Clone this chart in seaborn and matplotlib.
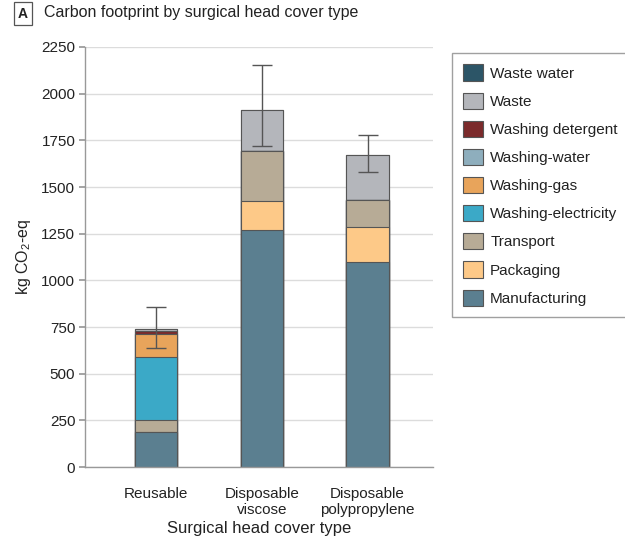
import pandas as pd
import matplotlib
matplotlib.use('Agg')
import matplotlib.pyplot as plt
import matplotlib.patches as mpatches
import seaborn as sns

# Data (kg CO2-eq)
categories = ['Reusable', 'Disposable\nviscose', 'Disposable\npolypropylene']
components = ['Manufacturing', 'Packaging', 'Transport', 'Washing-electricity',
              'Washing-gas', 'Washing-water', 'Washing detergent', 'Waste', 'Waste water']
manufacturing = [188, 1272, 1099]
packaging = [0, 152, 187]
transport = [63, 269, 142]
washing_electricity = [336, 0, 0]
washing_gas = [125, 0, 0]
washing_water = [3, 0, 0]
washing_detergent = [13, 0, 0]
waste = [9, 218, 243]
waste_water = [2, 0, 0]
err_low = [639, 1720, 1581]
err_high = [858, 2151, 1781]

colors = ['#5b7f90', '#fdc988', '#b7ab96', '#3ba9c7', '#e8a45b',
          '#8eaebd', '#7b2a2b', '#b4b6bb', '#2c5567']

df = pd.DataFrame(
    [manufacturing, packaging, transport, washing_electricity, washing_gas,
     washing_water, washing_detergent, waste, waste_water],
    index=components, columns=categories)
cum = df.cumsum()
totals = cum.iloc[-1]

sns.set_theme(style='whitegrid')
plt.rcParams['font.family'] = ['Liberation Sans', 'DejaVu Sans']
plt.rcParams['text.color'] = '#222222'

fig = plt.figure(figsize=(6.25, 5.4), dpi=100)
ax = fig.add_axes([0.136, 0.135, 0.557, 0.778])

edge = '#555555'
# draw cumulative bars from the top layer down so lower layers cover upper ones
for comp, col in zip(components[::-1], colors[::-1]):
    sns.barplot(x=categories, y=cum.loc[comp].values, color=col, saturation=1,
                width=0.4, edgecolor=edge, linewidth=0.8, ax=ax, zorder=2)

ax.errorbar(x=range(len(categories)), y=totals.values,
            yerr=[totals.values - err_low, err_high - totals.values],
            fmt='none', ecolor='#555555', elinewidth=1, capsize=7, capthick=1, zorder=3)

ax.set_ylim(0, 2250)
ax.set_xlim(-0.67, 2.62)
ax.set_yticks(range(0, 2251, 250))
ax.grid(axis='y', color='#dcdcdc', linewidth=1)
ax.grid(axis='x', visible=False)
ax.set_axisbelow(True)
for s in ['top', 'right']:
    ax.spines[s].set_visible(False)
for s in ['left', 'bottom']:
    ax.spines[s].set_visible(True)
    ax.spines[s].set_color('#999999')
    ax.spines[s].set_linewidth(1)
ax.tick_params(axis='y', left=True, length=4, color='#999999', labelsize=11,
               labelcolor='#222222', pad=3)
ax.tick_params(axis='x', bottom=False, labelsize=11, labelcolor='#222222', pad=8)

ax.set_ylabel('kg CO$_\\mathregular{2}$-eq', fontsize=11.5, color='#222222', labelpad=6)
ax.set_xlabel('Surgical head cover type', fontsize=12, color='#222222', labelpad=3)

# legend (top layer first)
handles = [mpatches.Patch(facecolor=c, edgecolor=edge, linewidth=0.8)
           for c in colors[::-1]]
leg = fig.legend(handles, components[::-1], loc='upper left',
                 bbox_to_anchor=(452 / 625, 1 - 53 / 540), fontsize=11,
                 frameon=True, fancybox=False, edgecolor='#888888',
                 handlelength=1.3, handleheight=1.25, handletextpad=0.45,
                 labelspacing=0.78, borderpad=0.75, borderaxespad=0)
leg.get_frame().set_linewidth(1)

# panel letter and title
fig.text(23 / 625, 1 - 13.5 / 540, 'A', fontsize=10, fontweight='bold', ha='center',
         va='center', bbox=dict(boxstyle='square,pad=0.3', facecolor='white',
                                edgecolor='#555555', linewidth=0.9))
fig.text(44 / 625, 1 - 13 / 540, 'Carbon footprint by surgical head cover type',
         fontsize=11.5, ha='left', va='center')

fig.savefig('out.png', dpi=100)
